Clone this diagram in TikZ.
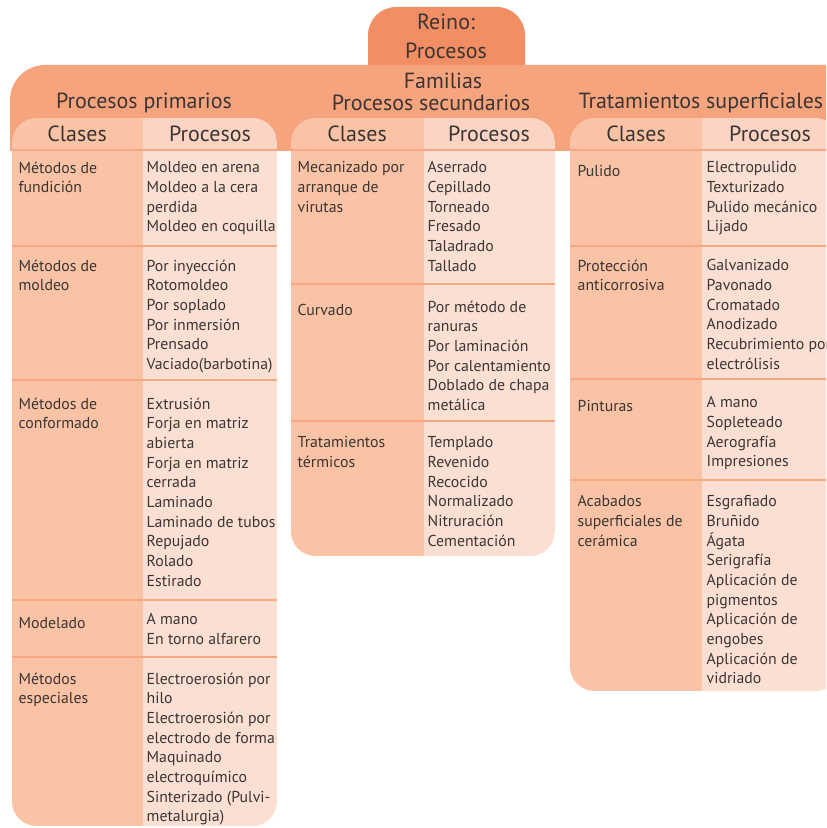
\documentclass[tikz,border=0pt]{standalone}
\usepackage{fontspec}
\setmainfont{PT Sans}
\usetikzlibrary{positioning}
\definecolor{reino}{HTML}{F28E63}
\definecolor{banda}{HTML}{F6A47E}
\definecolor{clase}{HTML}{FAC3A5}
\definecolor{procab}{HTML}{FBD4C3}
\definecolor{proceso}{HTML}{FCDFD3}
\definecolor{raya}{HTML}{F5A883}
\definecolor{tinta}{HTML}{3B3533}
\tikzset{every picture/.style={line width=0.75pt}}
\tikzset{
  texto/.style={text=tinta, inner sep=0pt, align=left, anchor=north west, yshift=-0.1cm,
    font=\fontsize{9}{11.2}\selectfont, execute at begin node={\rule{0pt}{8.5pt}}},
  titulo/.style={text=tinta, inner sep=0pt, font=\fontsize{12.5}{14}\selectfont},
  separa/.style={draw=raya, line width=1.2pt}
}
\begin{document}
\begin{tikzpicture}[x=0.02cm, y=-0.02cm]
\useasboundingbox (0,0) rectangle (826,828);
\clip (0,0) rectangle (826,828);
%
\fill[reino, rounded corners=16] (368,7) rectangle (525,100);
\node[titulo, align=center, font=\fontsize{12.5}{16.4}\selectfont] (reino) at (446,36) {Reino:\\Procesos};
%
\begin{scope}
\clip (10,65) rectangle (860,150);
\fill[banda, rounded corners=20] (10,65) rectangle (860,200);
\end{scope}
\node[titulo] (familias) at (443,81) {Familias};
\node[titulo] (primarios) at (144,103) {Procesos primarios};
\node[titulo] (secundarios) at (431,103) {Procesos secundarios};
\node[titulo, anchor=west] (superficiales) at (578,103) {Tratamientos superficiales};
%
\foreach \A/\B/\C/\D in {12/143/277/826, 291/424/555/556, 570/702/840/691} {
  \begin{scope}
    \clip[rounded corners=14] (\A,118) rectangle (\C,\D);
    \fill[clase] (\A,118) rectangle (\B,\D);
    \fill[procab] (\B,118) rectangle (\C,150);
    \fill[proceso] (\B,150) rectangle (\C,\D);
    \draw[separa] (\A,150) -- (\C,150);
  \end{scope}
}
\foreach \A/\C/\Y in {12/277/246, 12/277/380, 12/277/600, 12/277/657,
    291/555/284, 291/555/421, 570/840/246, 570/840/379, 570/840/480}
  \draw[separa] (\A,\Y) -- (\C,\Y);
%
\foreach \N/\X/\T in {c1/77/Clases, p1/210/Procesos, c2/357/Clases,
    p2/489/Procesos, c3/636/Clases, p3/770/Procesos}
  \node[titulo] (\N) at (\X,134) {\T};
%
\node[texto] (k11) at (18,156) {Métodos de\\fundición};
\node[texto] (q11) at (146,156) {Moldeo en arena\\Moldeo a la cera\\perdida\\Moldeo en coquilla};
\node[texto] (k12) at (18,254) {Métodos de\\moldeo};
\node[texto] (q12) at (146,254) {Por inyección\\Rotomoldeo\\Por soplado\\Por inmersión\\Prensado\\Vaciado(barbotina)};
\node[texto] (k13) at (18,392) {Métodos de\\conformado};
\node[texto] (q13) at (146,392) {Extrusión\\Forja en matriz\\abierta\\Forja en matriz\\cerrada\\Laminado\\Laminado de tubos\\Repujado\\Rolado\\Estirado};
\node[texto] (k14) at (18,608) {Modelado};
\node[texto] (q14) at (146,608) {A mano\\En torno alfarero};
\node[texto] (k15) at (18,667) {Métodos\\especiales};
\node[texto] (q15) at (146,667) {Electroerosión por\\hilo\\Electroerosión por\\electrodo de forma\\Maquinado\\electroquímico\\Sinterizado (Pulvi-\\metalurgia)};
%
\node[texto] (k21) at (297,156) {Mecanizado por\\arranque de\\virutas};
\node[texto] (q21) at (427,156) {Aserrado\\Cepillado\\Torneado\\Fresado\\Taladrado\\Tallado};
\node[texto] (k22) at (297,295) {Curvado};
\node[texto] (q22) at (427,295) {Por método de\\ranuras\\Por laminación\\Por calentamiento\\Doblado de chapa\\metálica};
\node[texto] (k23) at (297,431) {Tratamientos\\térmicos};
\node[texto] (q23) at (427,431) {Templado\\Revenido\\Recocido\\Normalizado\\Nitruración\\Cementación};
%
\node[texto] (k31) at (577,156) {Pulido};
\node[texto] (q31) at (706,156) {Electropulido\\Texturizado\\Pulido mecánico\\Lijado};
\node[texto] (k32) at (577,254) {Protección\\anticorrosiva};
\node[texto] (q32) at (706,254) {Galvanizado\\Pavonado\\Cromatado\\Anodizado\\Recubrimiento por\\electrólisis};
\node[texto] (k33) at (577,391) {Pinturas};
\node[texto] (q33) at (706,391) {A mano\\Sopleteado\\Aerografía\\Impresiones};
\node[texto] (k34) at (577,490) {Acabados\\superficiales de\\cerámica};
\node[texto] (q34) at (706,490) {Esgrafiado\\Bruñido\\Ágata\\Serigrafía\\Aplicación de\\pigmentos\\Aplicación de\\engobes\\Aplicación de\\vidriado};
\end{tikzpicture}
\end{document}
